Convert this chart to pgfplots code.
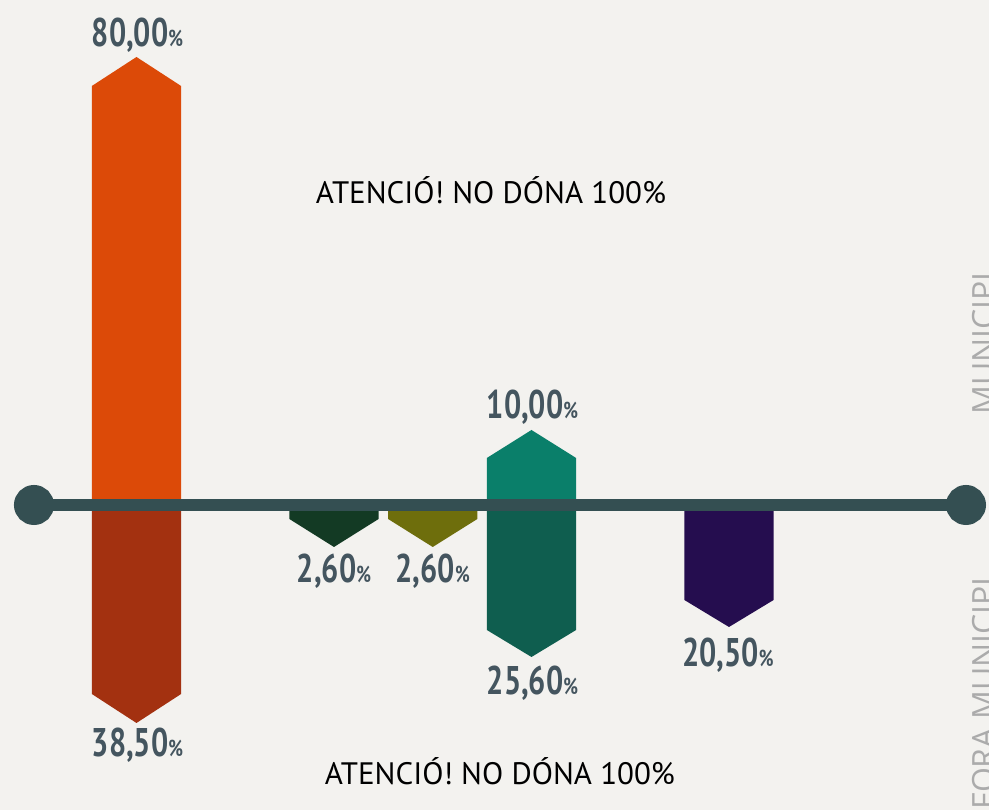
\documentclass[border=0pt]{standalone}
\usepackage{pgfplots}
\pgfplotsset{compat=1.18}
\usepackage{fontspec}
\setmainfont{PT Sans}
\newfontfamily\labfont[FakeStretch=0.76]{PT Sans}
\newfontfamily\notefont{PT Sans}
\newfontfamily\sidefont{Open Sans}
\definecolor{bgc}{HTML}{F3F2EF}
\definecolor{linec}{HTML}{344F52}
\definecolor{labc}{HTML}{44555F}
\definecolor{cOrange}{HTML}{DC4A08}
\definecolor{cBrown}{HTML}{A33110}
\definecolor{cDkGreen}{HTML}{133A24}
\definecolor{cOlive}{HTML}{6E6E0C}
\definecolor{cTealUp}{HTML}{0A7F6A}
\definecolor{cTealDn}{HTML}{0F5E4F}
\definecolor{cPurple}{HTML}{250D4F}
\definecolor{sidegray}{HTML}{ABABAB}
\newcommand\pct{{\fontsize{23}{23}\selectfont\%}}
\tikzset{lab/.style={font=\labfont\bfseries\fontsize{40}{40}\selectfont, text=labc, inner sep=0pt}}
\begin{document}
\begin{tikzpicture}
\fill[bgc] (0,0) rectangle (989pt,810pt);
\begin{axis}[at={(0,0)}, anchor=south west, scale only axis,
  width=989pt, height=810pt,
  xmin=-1.382, xmax=8.633, ymin=-61, ymax=101,
  axis lines=none, ticks=none, clip=false]
% upward bars
\addplot[fill=cOrange, draw=none] coordinates {(-0.452,0) (-0.452,83.8) (0,89.6) (0.452,83.8) (0.452,0)};
\addplot[fill=cTealUp, draw=none] coordinates {(3.548,0) (3.548,9.4) (4,15.0) (4.452,9.4) (4.452,0)};
% downward bars
\addplot[fill=cBrown, draw=none] coordinates {(-0.452,0) (-0.452,-37.8) (0,-43.6) (0.452,-37.8) (0.452,0)};
\addplot[fill=cDkGreen, draw=none] coordinates {(1.548,0) (1.548,-2.8) (2,-8.4) (2.452,-2.8) (2.452,0)};
\addplot[fill=cOlive, draw=none] coordinates {(2.548,0) (2.548,-2.8) (3,-8.4) (3.452,-2.8) (3.452,0)};
\addplot[fill=cTealDn, draw=none] coordinates {(3.548,0) (3.548,-25.0) (4,-30.4) (4.452,-25.0) (4.452,0)};
\addplot[fill=cPurple, draw=none] coordinates {(5.548,0) (5.548,-19.0) (6,-24.4) (6.452,-19.0) (6.452,0)};
% axis line
\addplot[linec, line width=12pt, mark=*, mark size=14pt, mark options={draw=none, fill=linec}] coordinates {(-1.038,0) (8.40,0)};
% value labels
\node[lab] at (axis cs:0.01,94.0) {80,00\pct};
\node[lab] at (axis cs:0.01,-48.0) {38,50\pct};
\node[lab] at (axis cs:2,-13.2) {2,60\pct};
\node[lab] at (axis cs:3,-13.2) {2,60\pct};
\node[lab] at (axis cs:4.01,19.6) {10,00\pct};
\node[lab] at (axis cs:4.01,-35.6) {25,60\pct};
\node[lab] at (axis cs:5.99,-30.0) {20,50\pct};
% notes
\node[font=\notefont\fontsize{31}{31}\selectfont, text=black, inner sep=0pt] at (axis cs:3.59,63.0) {ATENCIÓ! NO DÓNA 100\%};
\node[font=\notefont\fontsize{31}{31}\selectfont, text=black, inner sep=0pt] at (axis cs:3.68,-53.2) {ATENCIÓ! NO DÓNA 100\%};
% side labels
\node[rotate=90, anchor=north east, inner sep=0pt, text=sidegray, font=\sidefont\fontsize{32}{32}\selectfont] at (axis cs:8.46,46.6) {MUNICIPI};
\node[rotate=90, anchor=north east, inner sep=0pt, text=sidegray, font=\sidefont\fontsize{32}{32}\selectfont] at (axis cs:8.46,-14.4) {FORA MUNICIPI};
\end{axis}
\pgfresetboundingbox
\useasboundingbox (0,0) rectangle (989pt,810pt);
\end{tikzpicture}
\end{document}
